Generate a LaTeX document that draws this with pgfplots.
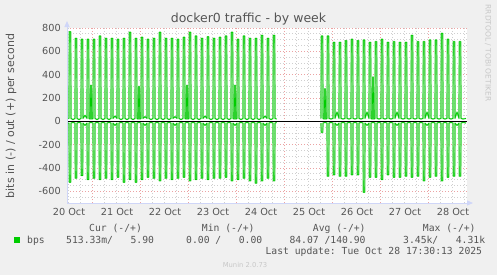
\documentclass[border=0pt]{standalone}
\usepackage{pgfplots}
\usepackage{pgfplotstable}
\pgfplotsset{compat=1.18}
\usepackage{fontspec}
\setmainfont{DejaVu Sans}
\newfontfamily\monofont{DejaVu Sans Mono}
\usetikzlibrary{arrows.meta}
\definecolor{bgcol}{HTML}{F0F0F0}
\definecolor{axiscol}{HTML}{CFD6F8}
\definecolor{txtcol}{HTML}{555555}
\definecolor{mingrid}{HTML}{CFCFCF}
\definecolor{majgrid}{HTML}{EBA3A3}
\definecolor{dkgreen}{HTML}{00CC00}
\definecolor{ltgreen}{HTML}{80E080}
\definecolor{faint}{HTML}{C8C8C8}

\pgfplotstableread[row sep=\\]{
x y\\
0 25\\
1 25\\1.1 768\\1.9 768\\2 25\\3 15\\
4 25\\4.1 711\\4.9 711\\5 25\\6 15\\
7 25\\7.1 703\\7.9 703\\8 25\\9 52\\
10 25\\10.1 703\\10.9 703\\11 25\\11.6 20\\11.9 310\\12.1 310\\12.4 20\\
13 25\\13.1 703\\13.9 703\\14 25\\15 15\\
16 25\\16.1 731\\16.9 731\\17 25\\18 15\\
19 25\\19.1 711\\19.9 711\\20 25\\21 15\\
22 25\\22.1 711\\22.9 711\\23 25\\24 45\\
25 25\\25.1 703\\25.9 703\\26 25\\27 15\\
28 25\\28.1 711\\28.9 711\\29 25\\30 15\\
31 25\\31.1 763\\31.9 763\\32 25\\33 15\\
34 25\\34.1 711\\34.9 711\\35 25\\35.6 20\\35.9 300\\36.1 300\\36.4 20\\
37 25\\37.1 720\\37.9 720\\38 25\\39 40\\
40 25\\40.1 703\\40.9 703\\41 25\\42 15\\
43 25\\43.1 711\\43.9 711\\44 25\\45 15\\
46 25\\46.1 763\\46.9 763\\47 25\\48 15\\
49 25\\49.1 711\\49.9 711\\50 25\\51 15\\
52 25\\52.1 711\\52.9 711\\53 25\\54 40\\
55 25\\55.1 703\\55.9 703\\56 25\\57 15\\
58 25\\58.1 720\\58.9 720\\59 25\\59.6 20\\59.9 310\\60.1 310\\60.4 20\\
61 25\\61.1 763\\61.9 763\\62 25\\63 15\\
64 25\\64.1 731\\64.9 731\\65 25\\66 15\\
67 25\\67.1 711\\67.9 711\\68 25\\69 45\\
70 25\\70.1 725\\70.9 725\\71 25\\72 15\\
73 25\\73.1 711\\73.9 711\\74 25\\75 15\\
76 25\\76.1 720\\76.9 720\\77 25\\78 15\\
79 25\\79.1 731\\79.9 731\\80 25\\81 15\\
82 25\\82.1 763\\82.9 763\\83 25\\83.6 20\\83.9 310\\84.1 310\\84.4 20\\
85 25\\85.1 703\\85.9 703\\86 25\\87 15\\
88 25\\88.1 731\\88.9 731\\89 25\\90 15\\
91 25\\91.1 711\\91.9 711\\92 25\\93 15\\
94 25\\94.1 711\\94.9 711\\95 25\\96 15\\
97 25\\97.1 737\\97.9 737\\98 25\\99 45\\
100 25\\100.1 711\\100.9 711\\101 25\\102 15\\
103 25\\103.1 737\\103.9 737\\104 25\\104.8 20\\
115 nan\\
127 25\\127.1 731\\127.9 731\\128 25\\128.6 20\\128.9 280\\129.1 280\\129.4 20\\
130 25\\130.1 731\\130.9 731\\131 25\\132 20\\
133 25\\133.1 677\\133.9 677\\134 25\\135 80\\
136 25\\136.1 677\\136.9 677\\137 25\\138 20\\
139 25\\139.1 691\\139.9 691\\140 25\\141 20\\
142 25\\142.1 703\\142.9 703\\143 25\\144 20\\
145 25\\145.1 691\\145.9 691\\146 25\\147 20\\
148 25\\148.1 697\\148.9 697\\149 25\\150 80\\
151 25\\151.1 677\\151.9 677\\152 25\\152.6 20\\152.9 380\\153.1 380\\153.4 20\\
154 25\\154.1 683\\154.9 683\\155 25\\156 20\\
157 25\\157.1 703\\157.9 703\\158 25\\159 20\\
160 25\\160.1 677\\160.9 677\\161 25\\162 20\\
163 25\\163.1 683\\163.9 683\\164 25\\165 80\\
166 25\\166.1 677\\166.9 677\\167 25\\168 20\\
169 25\\169.1 677\\169.9 677\\170 25\\171 20\\
172 25\\172.1 737\\172.9 737\\173 25\\174 20\\
175 25\\175.1 683\\175.9 683\\176 25\\177 20\\
178 25\\178.1 683\\178.9 683\\179 25\\180 80\\
181 25\\181.1 697\\181.9 697\\182 25\\183 20\\
184 25\\184.1 697\\184.9 697\\185 25\\186 20\\
187 25\\187.1 754\\187.9 754\\188 25\\189 20\\
190 25\\190.1 703\\190.9 703\\191 25\\192 20\\
193 25\\193.1 683\\193.9 683\\194 25\\195 80\\
196 25\\196.1 683\\196.9 683\\197 25\\198 20\\199.5 25\\
}\postab

\pgfplotstableread[row sep=\\]{
x y\\
0 -15\\
1 -15\\1.1 -522\\1.9 -522\\2 -15\\3 -8\\
4 -15\\4.1 -487\\4.9 -487\\5 -15\\6 -8\\
7 -15\\7.1 -464\\7.9 -464\\8 -15\\9 -35\\
10 -15\\10.1 -499\\10.9 -499\\11 -15\\12 -8\\
13 -15\\13.1 -487\\13.9 -487\\14 -15\\15 -8\\
16 -15\\16.1 -499\\16.9 -499\\17 -15\\18 -8\\
19 -15\\19.1 -487\\19.9 -487\\20 -15\\21 -8\\
22 -15\\22.1 -499\\22.9 -499\\23 -15\\24 -35\\
25 -15\\25.1 -479\\25.9 -479\\26 -15\\27 -8\\
28 -15\\28.1 -522\\28.9 -522\\29 -15\\30 -8\\
31 -15\\31.1 -499\\31.9 -499\\32 -15\\33 -8\\
34 -15\\34.1 -522\\34.9 -522\\35 -15\\36 -8\\
37 -15\\37.1 -499\\37.9 -499\\38 -15\\39 -35\\
40 -15\\40.1 -479\\40.9 -479\\41 -15\\42 -8\\
43 -15\\43.1 -487\\43.9 -487\\44 -15\\45 -8\\
46 -15\\46.1 -510\\46.9 -510\\47 -15\\48 -8\\
49 -15\\49.1 -487\\49.9 -487\\50 -15\\51 -8\\
52 -15\\52.1 -499\\52.9 -499\\53 -15\\54 -35\\
55 -15\\55.1 -487\\55.9 -487\\56 -15\\57 -8\\
58 -15\\58.1 -479\\58.9 -479\\59 -15\\60 -8\\
61 -15\\61.1 -510\\61.9 -510\\62 -15\\63 -8\\
64 -15\\64.1 -499\\64.9 -499\\65 -15\\66 -8\\
67 -15\\67.1 -487\\67.9 -487\\68 -15\\69 -35\\
70 -15\\70.1 -499\\70.9 -499\\71 -15\\72 -8\\
73 -15\\73.1 -487\\73.9 -487\\74 -15\\75 -8\\
76 -15\\76.1 -487\\76.9 -487\\77 -15\\78 -8\\
79 -15\\79.1 -479\\79.9 -479\\80 -15\\81 -8\\
82 -15\\82.1 -510\\82.9 -510\\83 -15\\84 -35\\
85 -15\\85.1 -499\\85.9 -499\\86 -15\\87 -8\\
88 -15\\88.1 -487\\88.9 -487\\89 -15\\90 -8\\
91 -15\\91.1 -510\\91.9 -510\\92 -15\\93 -8\\
94 -15\\94.1 -530\\94.9 -530\\95 -15\\96 -8\\
97 -15\\97.1 -510\\97.9 -510\\98 -15\\99 -35\\
100 -15\\100.1 -487\\100.9 -487\\101 -15\\102 -8\\
103 -15\\103.1 -510\\103.9 -510\\104 -15\\104.8 -10\\
115 nan\\
127 -15\\127.1 -95\\127.9 -95\\128 -15\\129 -8\\
130 -15\\130.1 -470\\130.9 -470\\131 -15\\132 -8\\
133 -15\\133.1 -458\\133.9 -458\\134 -15\\135 -35\\
136 -15\\136.1 -470\\136.9 -470\\137 -15\\138 -8\\
139 -15\\139.1 -470\\139.9 -470\\140 -15\\141 -8\\
142 -15\\142.1 -458\\142.9 -458\\143 -15\\144 -8\\
145 -15\\145.1 -458\\145.9 -458\\146 -15\\147 -8\\
148 -15\\148.1 -608\\148.9 -608\\149 -15\\150 -35\\
151 -15\\151.1 -479\\151.9 -479\\152 -15\\153 -8\\
154 -15\\154.1 -479\\154.9 -479\\155 -15\\156 -8\\
157 -15\\157.1 -499\\157.9 -499\\158 -15\\159 -8\\
160 -15\\160.1 -458\\160.9 -458\\161 -15\\162 -8\\
163 -15\\163.1 -479\\163.9 -479\\164 -15\\165 -35\\
166 -15\\166.1 -479\\166.9 -479\\167 -15\\168 -8\\
169 -15\\169.1 -470\\169.9 -470\\170 -15\\171 -8\\
172 -15\\172.1 -479\\172.9 -479\\173 -15\\174 -8\\
175 -15\\175.1 -470\\175.9 -470\\176 -15\\177 -8\\
178 -15\\178.1 -510\\178.9 -510\\179 -15\\180 -35\\
181 -15\\181.1 -479\\181.9 -479\\182 -15\\183 -8\\
184 -15\\184.1 -470\\184.9 -470\\185 -15\\186 -8\\
187 -15\\187.1 -510\\187.9 -510\\188 -15\\189 -8\\
190 -15\\190.1 -479\\190.9 -479\\191 -15\\192 -8\\
193 -15\\193.1 -470\\193.9 -470\\194 -15\\195 -35\\
196 -15\\196.1 -470\\196.9 -470\\197 -15\\198 -8\\199.5 -15\\
}\negtab

\begin{document}
\begin{tikzpicture}[x=1bp,y=1bp]
\fill[bgcol] (-67,-72) rectangle (430,203);
\begin{axis}[
  at={(0,0)}, anchor=south west,
  scale only axis, width=400bp, height=175bp,
  xmin=0, xmax=200, ymin=-700, ymax=800,
  axis line style={draw=none},
  axis background/.style={fill=white},
  xtick={1,25,49,73,97,121,145,169,193},
  xticklabels={20 Oct,21 Oct,22 Oct,23 Oct,24 Oct,25 Oct,26 Oct,27 Oct,28 Oct},
  minor xtick={0.5,6.5,18.5,24.5,30.5,42.5,48.5,54.5,66.5,72.5,78.5,90.5,96.5,102.5,114.5,120.5,126.5,138.5,144.5,150.5,162.5,168.5,174.5,186.5,192.5,198.5},
  extra x ticks={12.5,36.5,60.5,84.5,108.5,132.5,156.5,180.5},
  extra x tick labels={},
  extra x tick style={grid=major, major tick length=0pt},
  ytick={-600,-400,-200,0,200,400,600,800},
  yticklabels={-600,-400,-200,0,200,400,600,800},
  minor ytick={-650,-550,-500,-450,-350,-300,-250,-150,-100,-50,50,100,150,250,300,350,450,500,550,650,700,750},
  xmajorgrids=false, ymajorgrids=true, xminorgrids=true, yminorgrids=true,
  major grid style={majgrid, dash pattern=on 1bp off 2bp, line width=0.8bp},
  minor grid style={mingrid, dash pattern=on 1bp off 2bp, line width=0.8bp},
  major tick length=0pt, minor tick length=0pt,
  tick label style={font=\fontsize{9.72bp}{11bp}\selectfont, text=txtcol},
  xticklabel style={anchor=north, inner sep=0pt, yshift=-5bp},
  yticklabel style={anchor=east, inner sep=0pt, xshift=-6bp},
  unbounded coords=jump,
]
\addplot[ltgreen, line width=1.3bp, line join=round] table {\postab};
\addplot[ltgreen, line width=1.3bp, line join=round] table {\negtab};
\addplot[dkgreen, line width=0.65bp, line join=round] table {\postab};
\addplot[dkgreen, line width=0.65bp, line join=round] table {\negtab};
\addplot[black, line width=1bp] coordinates {(0,0) (200,0)};
\end{axis}
% axes with arrows
\draw[axiscol, line width=1bp, -{Triangle[width=5bp,length=6bp]}] (0,0) -- (406,0);
\draw[axiscol, line width=1bp, -{Triangle[width=5bp,length=6bp]}] (0,0) -- (0,182);
% title and labels
\node[font=\fontsize{12.5bp}{14bp}\selectfont, text=txtcol] at (181.5,184) {docker0 traffic - by week};
\node[rotate=90, font=\fontsize{11bp}{13bp}\selectfont, text=txtcol] at (-56,87) {bits in (-) / out (+) per second};
\node[rotate=-90, font=\fontsize{7.5bp}{9bp}\selectfont, text=faint] at (421,150) {RRDTOOL / TOBI OETIKER};
% legend
\fill[dkgreen] (-53,-40) rectangle (-47,-34);
\begin{scope}[every node/.style={anchor=base west, inner sep=0pt, font=\monofont\fontsize{9.72bp}{11bp}\selectfont, text=txtcol}]
\node at (-40,-40) {bps};
\node at (22,-28) {Cur~(-/+)};
\node at (-1,-40) {513.33m/~~~5.90};
\node at (134.7,-28) {Min~(-/+)};
\node at (119,-40) {0.00~/~~~0.00};
\node at (245.7,-28) {Avg~(-/+)};
\node at (222.3,-40) {84.07~/140.90};
\node at (355.7,-28) {Max~(-/+)};
\node at (336,-40) {3.45k/~~~4.31k};
\node[anchor=base east] at (415.3,-51) {Last~update:~Tue~Oct~28~17:30:13~2025};
\end{scope}
\node[anchor=base, inner sep=0pt, font=\fontsize{6.8bp}{8bp}\selectfont, text=faint] at (178,-64) {Munin 2.0.73};
\pgfresetboundingbox
\useasboundingbox (-67,-72) rectangle (430,203);
\end{tikzpicture}
\end{document}
